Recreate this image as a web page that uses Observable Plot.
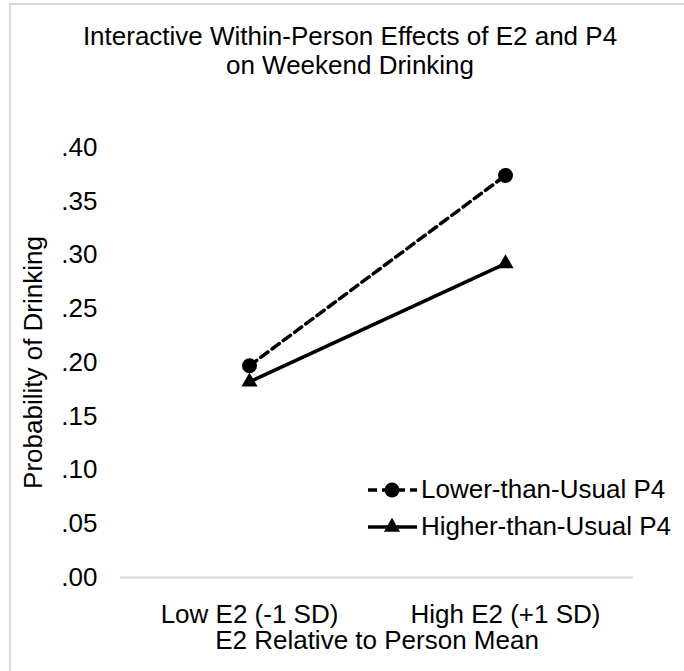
<!DOCTYPE html>
<html>
<head>
<meta charset="utf-8">
<script src="https://cdn.jsdelivr.net/npm/d3@7"></script>
<script src="https://cdn.jsdelivr.net/npm/@observablehq/plot@0.6"></script>
<style>
  html, body { margin: 0; padding: 0; background: #fff; overflow: hidden; }
  body { width: 684px; height: 671px; position: relative; font-family: "Liberation Sans", Arial, sans-serif; color: #000; }
  #frame { position: absolute; left: 9px; top: 3px; width: 2000px; height: 2000px; border-left: 2px solid #d9d9d9; border-top: 2px solid #d9d9d9; pointer-events: none; }
  #title { position: absolute; left: 0; top: 22px; width: 700px; text-align: center; font-size: 26px; line-height: 29px; }
  #chart { position: absolute; left: 0; top: 110px; }
  #legend { position: absolute; left: 366px; top: 471px; font-size: 26px; }
  .item { display: flex; align-items: center; height: 37px; }
  .item svg { margin-right: 3px; }
</style>
</head>
<body>
<div id="frame"></div>
<div id="title"></div>
<div id="chart"></div>
<div id="legend"></div>
<script>
// ---- data ----
const titleLines = ["Interactive Within-Person Effects of E2 and P4", "on Weekend Drinking"];
const categories = ["Low E2 (-1 SD)", "High E2 (+1 SD)"];
const seriesNames = ["Lower-than-Usual P4", "Higher-than-Usual P4"];
const lowerP4 = [0.197, 0.374];
const higherP4 = [0.182, 0.292];
const yTicks = [0, 0.05, 0.10, 0.15, 0.20, 0.25, 0.30, 0.35, 0.40];
const xTitle = "E2 Relative to Person Mean";
const yTitle = "Probability of Drinking";

// ---- build table ----
const rows = [];
categories.forEach((c, i) => {
  rows.push({cat: c, series: seriesNames[0], value: lowerP4[i]});
  rows.push({cat: c, series: seriesNames[1], value: higherP4[i]});
});
const lowerRows = rows.filter(d => d.series === seriesNames[0]);
const higherRows = rows.filter(d => d.series === seriesNames[1]);

const FONT = '"Liberation Sans", Arial, sans-serif';
const fmt = v => d3.format(".2f")(v).replace(/^0/, "");

document.getElementById("title").innerHTML = titleLines.join("<br>");

const chart = Plot.plot({
  width: 684,
  height: 561,
  marginLeft: 120,
  marginRight: 51,
  marginTop: 37,
  marginBottom: 94,
  style: {fontFamily: FONT, fontSize: "26px", color: "#000", background: "transparent", overflow: "visible"},
  x: {type: "point", domain: categories, padding: 0.5, tickSize: 0, tickPadding: 27, label: null},
  y: {domain: [0, 0.4], ticks: yTicks, tickFormat: fmt, tickSize: 0, tickPadding: 23, label: null},
  marks: [
    Plot.ruleY([0], {stroke: "#d9d9d9", strokeWidth: 2}),
    Plot.line(lowerRows, {x: "cat", y: "value", stroke: "#000", strokeWidth: 3.5, strokeDasharray: "9,5"}),
    Plot.line(higherRows, {x: "cat", y: "value", stroke: "#000", strokeWidth: 3.5}),
    Plot.dot(lowerRows, {x: "cat", y: "value", r: 7.5, fill: "#000", symbol: "circle"}),
    Plot.dot(higherRows, {x: "cat", y: "value", r: 6, fill: "#000", symbol: "triangle"}),
    Plot.text([xTitle], {text: d => d, frameAnchor: "bottom", lineAnchor: "middle", textAnchor: "middle", dy: 63, fontSize: 26, fill: "#000"}),
    Plot.text([yTitle], {text: d => d, frameAnchor: "left", lineAnchor: "middle", textAnchor: "middle", dx: -87, rotate: -90, fontSize: 26, fill: "#000"})
  ]
});
document.getElementById("chart").appendChild(chart);

// ---- legend ----
const legend = document.getElementById("legend");
seriesNames.forEach((name, i) => {
  const item = document.createElement("div");
  item.className = "item";
  const ns = "http://www.w3.org/2000/svg";
  const svg = document.createElementNS(ns, "svg");
  svg.setAttribute("width", 52);
  svg.setAttribute("height", 20);
  const line = document.createElementNS(ns, "line");
  line.setAttribute("x1", 2); line.setAttribute("x2", 51);
  line.setAttribute("y1", 10); line.setAttribute("y2", 10);
  line.setAttribute("stroke", "#000"); line.setAttribute("stroke-width", 3.5);
  if (i === 0) line.setAttribute("stroke-dasharray", "9,5");
  svg.appendChild(line);
  const sym = document.createElementNS(ns, "path");
  const size = Math.PI * (i === 0 ? 7.5 : 6) ** 2;
  sym.setAttribute("d", d3.symbol(i === 0 ? d3.symbolCircle : d3.symbolTriangle, size)());
  sym.setAttribute("transform", "translate(26,10)");
  sym.setAttribute("fill", "#000");
  svg.appendChild(sym);
  item.appendChild(svg);
  const span = document.createElement("span");
  span.textContent = name;
  item.appendChild(span);
  legend.appendChild(item);
});
</script>
</body>
</html>
